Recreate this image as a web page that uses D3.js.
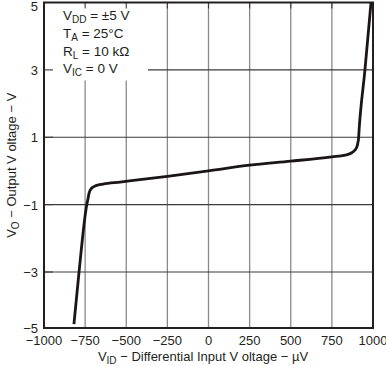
<!DOCTYPE html>
<html>
<head>
<meta charset="utf-8">
<script src="https://cdn.jsdelivr.net/npm/d3@7"></script>
<style>
  body { margin: 0; background: #fff; }
  text { font-family: "Liberation Sans", Arial, sans-serif; fill: #231f20; }
</style>
</head>
<body>
<svg id="chart" width="386" height="366"></svg>
<script>
// curve (differential input in uV, output in V)
var vid = [-818, -787, -740, -733, -726, -712, -690, -641, -538, -250, 0, 250, 500, 750, 830, 871, 897, 911, 917, 951, 988];
var vo  = [-4.86, -3, -1, -0.84, -0.66, -0.52, -0.45, -0.39, -0.33, -0.16, 0, 0.17, 0.29, 0.42, 0.47, 0.54, 0.66, 0.91, 1.33, 3, 5];

var xTicks = [-1000, -750, -500, -250, 0, 250, 500, 750, 1000];
var yTicks = [5, 3, 1, -1, -3, -5];
var notes = [
    ['V', 'DD', ' = ±5 V'],
    ['T', 'A', ' = 25°C'],
    ['R', 'L', ' = 10 kΩ'],
    ['V', 'IC', ' = 0 V']
];

var svg = d3.select('#chart');
var pLeft = 44, pRight = 373, pTop = 2.5, pBottom = 328;

var x = d3.scaleLinear().domain([-1000, 1000]).range([pLeft, pRight]);
// bottom band of the original is a little squeezed
var y = d3.scaleLinear().domain([-5, -3, 5]).range([pBottom, 272, pTop]);

var fmt = function(d) { return d < 0 ? '\u2212' + Math.abs(d) : '' + d; };

// grid
svg.append('g').selectAll('line')
    .data(xTicks.slice(1, -1))
    .enter().append('line')
    .attr('x1', function(d) { return x(d); })
    .attr('x2', function(d) { return x(d); })
    .attr('y1', pTop).attr('y2', pBottom)
    .attr('stroke', '#8a8a8a').attr('stroke-width', 1.3);

svg.append('g').selectAll('line')
    .data(yTicks.slice(1, -1))
    .enter().append('line')
    .attr('x1', pLeft).attr('x2', pRight)
    .attr('y1', function(d) { return y(d); })
    .attr('y2', function(d) { return y(d); })
    .attr('stroke', '#3a3a3a').attr('stroke-width', 1.1);

// white box behind the conditions
svg.append('rect')
    .attr('x', pLeft).attr('y', pTop)
    .attr('width', 104).attr('height', 78)
    .attr('fill', '#fff');

// inward tick marks along the top and left edges
svg.append('g').selectAll('line')
    .data(xTicks.slice(1, -1))
    .enter().append('line')
    .attr('x1', function(d) { return x(d); })
    .attr('x2', function(d) { return x(d); })
    .attr('y1', pTop).attr('y2', pTop + 6)
    .attr('stroke', '#3a3a3a').attr('stroke-width', 1.1);
svg.append('g').selectAll('line')
    .data(yTicks.slice(1, -1))
    .enter().append('line')
    .attr('x1', pLeft).attr('x2', pLeft + 9)
    .attr('y1', function(d) { return y(d); })
    .attr('y2', function(d) { return y(d); })
    .attr('stroke', '#3a3a3a').attr('stroke-width', 1.1);

// conditions text
var nt = svg.append('g').selectAll('text')
    .data(notes)
    .enter().append('text')
    .attr('x', 63)
    .attr('y', function(d, i) { return 20 + i * 17.8; })
    .attr('font-size', 13.5);
nt.append('tspan').text(function(d) { return d[0]; });
nt.append('tspan').attr('font-size', 10).attr('dy', 3).text(function(d) { return d[1]; });
nt.append('tspan').attr('dy', -3).text(function(d) { return d[2]; });

// frame
svg.append('rect')
    .attr('x', pLeft).attr('y', pTop)
    .attr('width', pRight - pLeft).attr('height', pBottom - pTop)
    .attr('fill', 'none').attr('stroke', '#231f20').attr('stroke-width', 2);

// curve
var pts = vid.map(function(d, i) { return [d, vo[i]]; });
var line = d3.line()
    .x(function(d) { return x(d[0]); })
    .y(function(d) { return y(d[1]); })
    .curve(d3.curveMonotoneX);
svg.append('path')
    .datum(pts)
    .attr('d', line)
    .attr('fill', 'none')
    .attr('stroke', '#1a1616')
    .attr('stroke-width', 2.8)
    .attr('stroke-linejoin', 'round');

// tick labels
svg.append('g').selectAll('text')
    .data(xTicks)
    .enter().append('text')
    .attr('x', function(d) { return x(d); })
    .attr('y', 345)
    .attr('text-anchor', 'middle')
    .attr('font-size', 13)
    .text(fmt);

svg.append('g').selectAll('text')
    .data(yTicks)
    .enter().append('text')
    .attr('x', 38)
    .attr('y', function(d) { return Math.max(y(d) + 5, 11); })
    .attr('text-anchor', 'end')
    .attr('font-size', 13)
    .text(fmt);

// axis titles
var xt = svg.append('text')
    .attr('x', 203).attr('y', 361)
    .attr('text-anchor', 'middle')
    .attr('font-size', 13);
xt.append('tspan').text('V');
xt.append('tspan').attr('font-size', 10).attr('dy', 3).text('ID');
xt.append('tspan').attr('dy', -3).text(' \u2212 Differential Input V oltage \u2212 \u00b5V');

var yt = svg.append('text')
    .attr('transform', 'translate(16,' + ((pTop + pBottom) / 2) + ') rotate(-90)')
    .attr('text-anchor', 'middle')
    .attr('font-size', 13);
yt.append('tspan').text('V');
yt.append('tspan').attr('font-size', 10).attr('dy', 3).text('O');
yt.append('tspan').attr('dy', -3).text(' \u2212 Output V oltage \u2212 V');
</script>
</body>
</html>
